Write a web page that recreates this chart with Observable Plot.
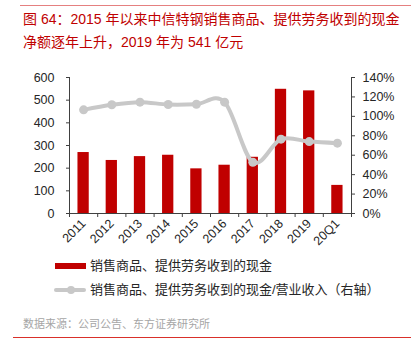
<!DOCTYPE html>
<html>
<head>
<meta charset="utf-8">
<script src="https://cdn.jsdelivr.net/npm/d3@7"></script>
<script src="https://cdn.jsdelivr.net/npm/@observablehq/plot@0.6"></script>
<style>
  html, body { margin: 0; padding: 0; background: #fff; }
  #wrap { position: relative; width: 411px; height: 357px; overflow: hidden;
    font-family: "Liberation Sans", Arial, "Noto Sans CJK SC", sans-serif; }
  .abs { position: absolute; }
  #title { left: 23px; top: 8px; font-size: 14px; line-height: 23px; color: #C00000;
    font-family: "Liberation Sans", Arial, "Noto Sans CJK SC", sans-serif; white-space: nowrap; }
  #chart { left: 0; top: 60px; }
  .legtext { font-size: 13px; color: #262626; white-space: nowrap; line-height: 16px; }
  #source { left: 23px; top: 317px; font-size: 11px; color: #A6A6A6; line-height: 14px; white-space: nowrap; }
</style>
</head>
<body>
<div id="wrap">
  <div class="abs" style="left:20px;top:5px;width:391px;height:1px;background:#E58080;"></div>
  <div id="title" class="abs">图 64：2015 年以来中信特钢销售商品、提供劳务收到的现金<br>净额逐年上升，2019 年为 541 亿元</div>
  <div id="chart" class="abs"></div>
  <div class="abs" style="left:55px;top:263px;width:31px;height:6px;background:#C00000;"></div>
  <div class="abs legtext" style="left:90px;top:258px;">销售商品、提供劳务收到的现金</div>
  <div class="abs" style="left:54px;top:288px;width:32px;height:4px;background:#C8C8C8;border-radius:2px;"></div>
  <div class="abs" style="left:67px;top:286px;width:8px;height:8px;background:#C8C8C8;border-radius:50%;"></div>
  <div class="abs legtext" style="left:90px;top:282px;">销售商品、提供劳务收到的现金/营业收入（右轴）</div>
  <div id="source" class="abs">数据来源：公司公告、东方证券研究所</div>
  <div class="abs" style="left:13px;top:337px;width:398px;height:1px;background:#D9302A;"></div>
</div>
<script>
const categories = ["2011","2012","2013","2014","2015","2016","2017","2018","2019","20Q1"];
const cashReceived = [269, 234, 251, 257, 197, 213, 248, 548, 541, 124];
const cashToRevenuePct = [106.7, 111.9, 114.6, 112.2, 112.5, 114.6, 52.8, 76.5, 74.0, 72.4];
const leftTicks = [0, 100, 200, 300, 400, 500, 600];
const rightTicksPct = [0, 20, 40, 60, 80, 100, 120, 140];

const leftMax = 600, rightMax = 140;
const toLeft = p => p * leftMax / rightMax;

const data = categories.map((c, i) => ({i, cat: c, cash: cashReceived[i], pct: cashToRevenuePct[i]}));

const chart = Plot.plot({
  width: 411,
  height: 195,
  marginLeft: 69,
  marginRight: 60,
  marginTop: 17,
  marginBottom: 42,
  x: {type: "linear", domain: [0, categories.length], axis: null},
  y: {domain: [0, leftMax], axis: null},
  style: {fontFamily: '"Liberation Sans", Arial, sans-serif', fontSize: "12.5px", color: "#262626", background: "transparent", overflow: "visible"},
  marks: [
    Plot.rectY(data, {x1: d => d.i + 0.3, x2: d => d.i + 0.7, y: "cash", fill: "#C00000"}),
    Plot.line(data, {x: d => d.i + 0.5, y: d => toLeft(d.pct), curve: "cardinal", stroke: "#C8C8C8", strokeWidth: 4}),
    Plot.dot(data, {x: d => d.i + 0.5, y: d => toLeft(d.pct), r: 4.5, fill: "#C8C8C8"}),
    Plot.ruleY([0], {stroke: "#404040"}),
    Plot.ruleX([0, categories.length], {stroke: "#404040"}),
    Plot.axisY(leftTicks, {anchor: "left", tickSize: 3, tickPadding: 12, stroke: "#404040", label: null}),
    Plot.axisY(rightTicksPct.map(toLeft), {anchor: "right", tickSize: 3, tickPadding: 8, stroke: "#404040", label: null,
      tickFormat: d => Math.round(d * rightMax / leftMax) + "%"}),
    Plot.axisX(d3.range(categories.length + 1), {anchor: "bottom", tickSize: 4, tickFormat: () => "", stroke: "#404040", label: null}),
    Plot.axisX(categories.map((c, i) => i + 0.5), {anchor: "bottom", tickSize: 0, tickPadding: 8, tickRotate: -45, label: null,
      tickFormat: d => categories[Math.floor(d)]})
  ]
});
document.getElementById("chart").appendChild(chart);
</script>
</body>
</html>
